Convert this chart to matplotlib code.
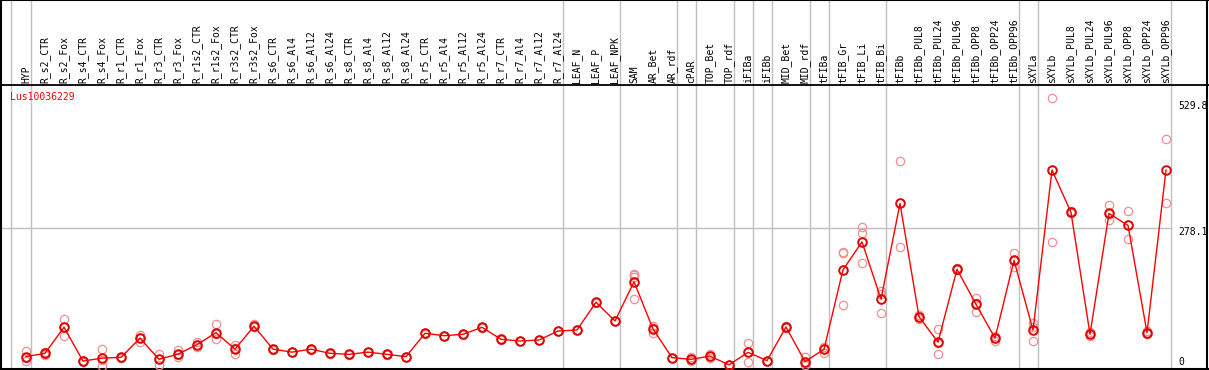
import numpy as np
import matplotlib
matplotlib.use('Agg')
import matplotlib.pyplot as plt

gene = 'Lus10036229'

samples = ['HYP', 'R_s2_CTR', 'R_s2_Fox', 'R_s4_CTR', 'R_s4_Fox', 'R_r1_CTR', 'R_r1_Fox',
           'R_r3_CTR', 'R_r3_Fox', 'R_r1s2_CTR', 'R_r1s2_Fox', 'R_r3s2_CTR', 'R_r3s2_Fox',
           'R_s6_CTR', 'R_s6_Al4', 'R_s6_Al12', 'R_s6_Al24', 'R_s8_CTR', 'R_s8_Al4',
           'R_s8_Al12', 'R_s8_Al24', 'R_r5_CTR', 'R_r5_Al4', 'R_r5_Al12', 'R_r5_Al24',
           'R_r7_CTR', 'R_r7_Al4', 'R_r7_Al12', 'R_r7_Al24', 'LEAF_N', 'LEAF_P', 'LEAF_NPK',
           'SAM', 'AR_Bet', 'AR_rdf', 'cPAR', 'TOP_Bet', 'TOP_rdf', 'iFIBa', 'iFIBb',
           'MID_Bet', 'MID_rdf', 'tFIBa', 'tFIB_Gr', 'tFIB_Li', 'tFIB_Bi', 'tFIBb',
           'tFIBb_PUL8', 'tFIBb_PUL24', 'tFIBb_PUL96', 'tFIBb_OPP8', 'tFIBb_OPP24',
           'tFIBb_OPP96', 'sXYLa', 'sXYLb', 'sXYLb_PUL8', 'sXYLb_PUL24', 'sXYLb_PUL96',
           'sXYLb_OPP8', 'sXYLb_OPP24', 'sXYLb_OPP96']

means = [21, 27.6, 80, 12, 18, 19.6, 58, 15.6, 26, 45, 69, 36, 82,
         36, 30, 36, 27.6, 25.6, 30, 25.6, 21, 67.7, 63, 65.7, 79.7,
         55.7, 52.3, 54.3, 72.3, 74.3, 130, 92.4,
         171, 76.4, 19, 15.6, 22, 4.5, 29.6, 13,
         80.4, 11, 35.7, 195, 251, 136, 328,
         101, 50, 196, 126, 58, 214,
         74, 395, 310, 66, 308, 284, 69, 395]

replicates = [[32, 19, 12], [30, 24, 27], [96, 80, 62], [13, 12, 11], [36, 15, 2],
              [20, 19, 20], [64, 58, 51], [26, 16, 4], [34, 25, 20], [50, 44, 40],
              [86, 66, 56], [44, 38, 27], [86, 81, 80],
              [36, 35, 36], [30, 31, 30], [36, 36, 35], [28, 27, 28], [26, 25, 26],
              [30, 31, 30], [26, 25, 26], [21, 21, 20], [68, 67, 68], [63, 63, 62],
              [66, 65, 66], [80, 79, 80], [56, 55, 56], [52, 53, 52], [54, 55, 54],
              [72, 73, 72], [74, 75, 74], [130, 129, 130], [92, 93, 92],
              [187, 184, 181, 136], [83, 79, 68], [19, 19, 18], [20, 15, 12],
              [26, 22, 19], [5, 4, 4], [48, 30, 10], [13, 13, 12],
              [82, 80, 79], [20, 9, 4], [41, 37, 29], [231, 229, 124], [280, 269, 208],
              [153, 147, 108], [414, 241],
              [105, 101, 97], [76, 48, 26], [198, 195, 196], [138, 128, 111],
              [62, 58, 52], [228, 213, 201],
              [89, 81, 53], [539, 250], [312, 310, 308], [70, 66, 62], [324, 306, 295],
              [312, 285, 256], [72, 69, 66], [458, 328]]

# last sample index of each group (separators drawn right after them)
group_ends = [0, 28, 31, 34, 35, 37, 38, 39, 41, 42, 45, 52, 53, 60]

y_ticks = [0, 278.1, 529.8]

fig = plt.figure(figsize=(12.09, 3.70), dpi=100)
ax = fig.add_axes([0, 0, 1, 1])
ax.set_xlim(-1.368, 62.263)
ax.set_ylim(-5.8, 735.7)
ax.axis('off')

x = np.arange(len(samples))
grey = '#c0c0c0'
mono = 'DejaVu Sans Mono'

# group separators
ax.axvline(-0.79, color=grey, lw=1, zorder=1)
for g in group_ends:
    ax.axvline(g + 0.25, color=grey, lw=1, zorder=1)

# grid line at the middle tick
ax.plot([-1.368, 60.25], [y_ticks[1], y_ticks[1]], color=grey, lw=1, zorder=1)

# header separator and frame
ax.axhline(565.3, color='black', lw=1.3, zorder=2)
ax.axhline(-3.8, color='black', lw=1.5, zorder=2)
ax.axhline(735.0, color='black', lw=1.5, zorder=2)
ax.axvline(-1.32, color='black', lw=1.5, zorder=2)
ax.axvline(62.16, color='black', lw=1.5, zorder=2)

# sample labels
for i, s in enumerate(samples):
    ax.text(i, 569.5, s, rotation=90, ha='center', va='bottom',
            family=mono, fontsize=7, color='black')

ax.text(-0.84, 541, gene, ha='left', va='center', family=mono, fontsize=7, color='red')

# right side value labels
ax.text(60.63, 523.2, '529.8', ha='left', va='center', family=mono, fontsize=7)
ax.text(60.63, 270.1, '278.1', ha='left', va='center', family=mono, fontsize=7)
ax.text(60.63, 9.6, '0', ha='left', va='center', family=mono, fontsize=7)

# replicates
for i, reps in enumerate(replicates):
    ax.plot([i] * len(reps), reps, linestyle='none', marker='o', markersize=6,
            markerfacecolor='none', markeredgecolor='#f09090', markeredgewidth=0.9,
            zorder=3)

# mean profile
ax.plot(x, means, color='red', lw=1, zorder=4)
ax.plot(x, means, linestyle='none', marker='o', markersize=6.2, markerfacecolor='none',
        markeredgecolor='#e00000', markeredgewidth=1.4, zorder=5)

fig.savefig('out.png', dpi=100)
